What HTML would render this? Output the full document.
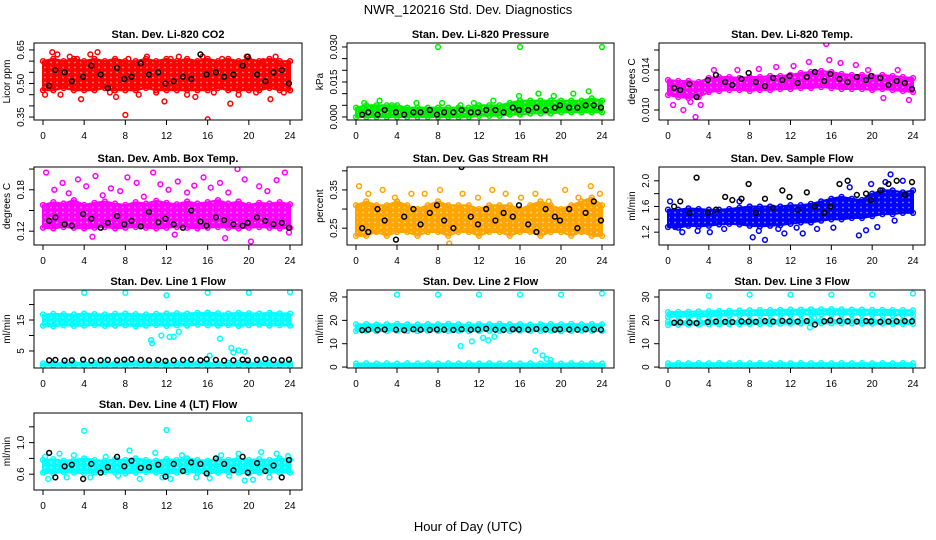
<!DOCTYPE html>
<html><head><meta charset="utf-8"><style>
html,body{margin:0;padding:0;background:#fff;}
svg{display:block;font-family:"Liberation Sans",sans-serif;}
</style></head><body>
<svg id="chart" width="936" height="540" viewBox="0 0 936 540">
<rect width="936" height="540" fill="#fff"/>
<defs id="defs"></defs>
<text x="468" y="14" font-size="13" text-anchor="middle">NWR_120216 Std. Dev. Diagnostics</text>
<text x="468" y="531" font-size="13" text-anchor="middle">Hour of Day (UTC)</text>
</svg>
<script>
const bandHours=[0,1,2,3,4,5,6,7,8,9,10,11,12,13,14,15,16,17,18,19,20,21,22,23,24];
const blackHours=[0.6,1.2,2.1,2.8,3.9,4.7,5.6,6.3,7.2,7.9,8.6,9.5,10.3,11.2,11.9,12.7,13.6,14.4,15.3,15.9,16.8,17.6,18.5,19.4,19.9,20.8,21.6,22.4,23.2,23.9];
const xTicks=[0,4,8,12,16,20,24];

// CO2
const co2Lo=[0.47,0.47,0.48,0.47,0.47,0.47,0.48,0.47,0.47,0.47,0.48,0.47,0.47,0.47,0.47,0.47,0.47,0.48,0.47,0.47,0.47,0.47,0.48,0.47,0.47];
const co2Hi=[0.60,0.61,0.60,0.61,0.60,0.61,0.60,0.61,0.60,0.60,0.61,0.60,0.61,0.60,0.61,0.60,0.61,0.60,0.61,0.60,0.61,0.60,0.61,0.60,0.60];
const co2PtsX=[0.2,0.9,1.4,1.7,2.6,3.3,3.7,4.6,5.3,6.5,7.1,8.0,8.3,9.3,10.1,11.0,11.8,12.4,13.2,14.0,14.8,15.5,16.0,16.6,17.4,18.2,19.0,19.8,20.7,21.4,22.1,22.6,23.4,24.0];
const co2PtsY=[0.45,0.64,0.63,0.45,0.62,0.61,0.43,0.63,0.64,0.46,0.44,0.36,0.61,0.45,0.62,0.46,0.42,0.61,0.62,0.45,0.44,0.62,0.34,0.46,0.61,0.41,0.45,0.62,0.46,0.60,0.43,0.62,0.46,0.47];
const co2Black=[0.49,0.56,0.55,0.51,0.53,0.58,0.54,0.48,0.57,0.52,0.53,0.59,0.54,0.55,0.50,0.51,0.53,0.52,0.63,0.54,0.55,0.53,0.54,0.58,0.62,0.54,0.51,0.55,0.56,0.50];
// Pressure
const presLo=[0,0,0,0,0,0,0,0,0,0,0,0,0.0005,0.0005,0.0005,0.001,0.001,0.0015,0.0015,0.0015,0.002,0.002,0.002,0.002,0.002];
const presHi=[0.004,0.005,0.005,0.005,0.005,0.004,0.004,0.004,0.004,0.004,0.004,0.004,0.005,0.005,0.005,0.006,0.007,0.007,0.007,0.007,0.007,0.007,0.007,0.008,0.007];
const presPtsX=[0.8,2.3,3.5,5.9,8.0,8.4,10.2,11.5,13.4,15.9,16.0,17.8,19.3,21.2,22.7,24.0];
const presPtsY=[0.006,0.007,0.005,0.006,0.030,0.006,0.005,0.006,0.007,0.009,0.030,0.010,0.009,0.010,0.011,0.030];
const presBlack=[0.001,0.002,0.001,0.003,0.002,0.001,0.002,0.002,0.003,0.001,0.002,0.002,0.003,0.002,0.002,0.003,0.003,0.002,0.004,0.003,0.003,0.004,0.003,0.004,0.005,0.004,0.004,0.005,0.005,0.004];
// Li-820 temp
const tempLo=[0.0115,0.0113,0.0112,0.0113,0.0118,0.0119,0.0120,0.0120,0.0119,0.0120,0.0120,0.0121,0.0121,0.0122,0.0122,0.0123,0.0122,0.0121,0.0121,0.0121,0.0120,0.0121,0.0120,0.0119,0.0118];
const tempHi=[0.0130,0.0129,0.0129,0.0128,0.0132,0.0133,0.0133,0.0132,0.0133,0.0133,0.0134,0.0134,0.0135,0.0137,0.0138,0.0139,0.0138,0.0136,0.0135,0.0135,0.0134,0.0135,0.0134,0.0133,0.0132];
const tempPtsX=[0.5,1.5,2.2,2.7,3.2,4.5,6.8,8.9,10.6,12.3,13.8,15.5,15.8,16.9,18.4,19.6,21.1,22.5,23.6];
const tempPtsY=[0.0105,0.0100,0.0108,0.0093,0.0105,0.0140,0.0140,0.0141,0.0143,0.0144,0.0148,0.0166,0.0150,0.0147,0.0145,0.0140,0.0112,0.0140,0.0110];
const tempBlack=[0.0122,0.0120,0.0126,0.0113,0.0130,0.0135,0.0128,0.0125,0.0131,0.0137,0.0128,0.0124,0.0132,0.0130,0.0134,0.0127,0.0133,0.0138,0.0129,0.0136,0.0131,0.0128,0.0133,0.0130,0.0134,0.0132,0.0125,0.0129,0.0127,0.0121];
// Amb box temp
const ambLo=[0.125,0.124,0.126,0.125,0.124,0.125,0.126,0.124,0.125,0.126,0.125,0.124,0.125,0.126,0.125,0.124,0.125,0.126,0.125,0.124,0.125,0.126,0.125,0.124,0.125];
const ambHi=[0.158,0.162,0.160,0.165,0.158,0.161,0.163,0.160,0.158,0.162,0.160,0.164,0.161,0.159,0.163,0.160,0.162,0.165,0.160,0.163,0.158,0.161,0.160,0.162,0.159];
const ambPtsX=[0.3,1.1,1.9,2.5,3.4,4.2,5.1,5.8,6.6,7.5,8.2,9.1,9.8,10.7,11.4,12.2,13.1,14.0,14.7,15.6,16.3,17.2,18.0,18.9,19.6,20.2,21.0,21.8,22.7,23.5,23.9,4.8,12.8,17.7];
const ambPtsY=[0.205,0.180,0.190,0.175,0.195,0.185,0.200,0.172,0.182,0.178,0.198,0.190,0.170,0.205,0.188,0.180,0.192,0.176,0.186,0.198,0.183,0.190,0.176,0.210,0.195,0.105,0.185,0.178,0.194,0.205,0.118,0.112,0.115,0.110];
const ambBlack=[0.135,0.140,0.130,0.128,0.145,0.138,0.125,0.132,0.142,0.130,0.135,0.127,0.148,0.133,0.138,0.130,0.125,0.150,0.134,0.128,0.140,0.136,0.130,0.128,0.132,0.140,0.135,0.130,0.132,0.125];
// Gas stream RH
const rhLo=[0.23,0.23,0.24,0.23,0.24,0.24,0.23,0.24,0.24,0.23,0.24,0.24,0.23,0.24,0.24,0.23,0.24,0.24,0.23,0.24,0.24,0.23,0.24,0.23,0.23];
const rhHi=[0.31,0.32,0.31,0.31,0.32,0.31,0.30,0.31,0.32,0.31,0.31,0.31,0.30,0.31,0.31,0.31,0.30,0.31,0.32,0.31,0.30,0.31,0.32,0.33,0.31];
const rhPtsX=[0.3,1.2,2.6,3.8,5.4,6.7,8.2,9.1,10.4,11.9,13.3,14.6,16.1,17.5,18.8,20.4,21.7,22.9,23.8];
const rhPtsY=[0.36,0.34,0.35,0.33,0.34,0.34,0.35,0.21,0.34,0.33,0.35,0.34,0.33,0.34,0.32,0.35,0.33,0.36,0.34];
const rhBlack=[0.25,0.24,0.30,0.27,0.22,0.28,0.30,0.26,0.29,0.31,0.27,0.25,0.41,0.28,0.26,0.30,0.27,0.29,0.28,0.31,0.26,0.24,0.30,0.28,0.27,0.30,0.25,0.29,0.32,0.27];
// Sample flow
const sfLo=[1.28,1.27,1.30,1.29,1.30,1.32,1.33,1.32,1.30,1.29,1.30,1.31,1.33,1.35,1.35,1.38,1.40,1.40,1.42,1.42,1.45,1.48,1.48,1.50,1.50];
const sfHi=[1.55,1.55,1.57,1.56,1.55,1.55,1.56,1.58,1.60,1.60,1.60,1.60,1.62,1.62,1.64,1.68,1.72,1.75,1.72,1.70,1.80,1.85,1.85,1.82,1.85];
const sfPtsX=[0.2,0.7,1.4,2.9,4.1,5.5,7.0,8.3,8.9,9.5,10.8,11.4,12.6,13.2,14.6,16.2,17.8,18.7,19.4,19.9,20.5,21.3,21.8,22.2,23.0];
const sfPtsY=[1.68,1.28,1.20,1.22,1.20,1.25,1.68,1.12,1.22,1.08,1.25,1.18,1.27,1.18,1.25,1.27,1.90,1.15,1.23,1.95,1.28,1.98,2.10,1.38,2.00];
const sfBlack=[1.60,1.68,1.50,2.05,1.50,1.55,1.75,1.70,1.72,1.95,1.50,1.72,1.58,1.85,1.75,1.55,1.82,1.60,1.50,1.60,1.95,2.00,1.78,1.80,1.70,1.85,1.95,2.00,1.78,1.98];
// Line 1
const l1Lo=[13.2,13.0,13.3,13.1,13.2,13.4,13.1,13.2,13.3,13.0,13.2,13.4,13.1,13.3,13.2,13.5,13.3,13.2,13.4,13.1,13.3,13.5,13.2,13.3,13.2];
const l1Hi=[16.8,17.0,16.9,16.8,17.1,16.9,16.8,17.0,17.1,16.9,16.8,17.0,17.1,17.2,17.1,17.3,17.4,17.2,17.1,17.3,17.2,17.1,17.3,17.2,17.1];
const l1LowLo=[0.2,0.3,0.2,0.3,0.2,0.3,0.2,0.3,0.2,0.3,0.2,0.3,0.2,0.3,0.2,0.3,0.2,0.3,0.2,0.3,0.2,0.3,0.2,0.3,0.2];
const l1LowHi=[1.0,1.1,1.0,1.2,1.0,1.1,1.2,1.0,1.1,1.0,1.2,1.1,1.0,1.1,1.2,1.0,1.1,1.0,1.2,1.1,1.0,1.1,1.2,1.0,1.1];
const l1PtsX=[4.0,8.0,12.0,16.0,20.0,24.0,10.5,10.6,11.5,12.3,12.7,13.2,17.2,18.3,18.5,19.0,19.6,16.2];
const l1PtsY=[23.8,23.8,23.0,23.8,23.8,24.0,8.5,7.5,10.0,9.5,9.6,11.2,9.0,6.0,4.5,5.2,4.8,3.5];
const l1Black=[2.0,2.1,1.9,2.0,2.2,1.9,2.0,2.1,2.0,2.2,2.3,2.1,2.0,2.1,1.8,2.0,2.1,2.2,2.0,2.3,2.1,1.9,2.0,2.2,2.0,2.1,2.4,2.1,2.0,2.2];
// Line 2
const l2Lo=[15.5,15.6,15.4,15.5,15.6,15.5,15.4,15.6,15.5,15.5,15.6,15.4,15.5,15.6,15.5,15.4,15.6,15.5,15.5,15.6,15.4,15.5,15.6,15.5,15.5];
const l2Hi=[18.3,18.4,18.2,18.3,18.5,18.3,18.2,18.4,18.3,18.5,18.3,18.2,18.4,18.3,18.5,18.3,18.4,18.2,18.3,18.4,18.3,18.5,18.3,18.4,18.3];
const l2LowLo=[0.3,0.4,0.3,0.4,0.3,0.4,0.3,0.4,0.3,0.4,0.3,0.4,0.3,0.4,0.3,0.4,0.3,0.4,0.3,0.4,0.3,0.4,0.3,0.4,0.3];
const l2LowHi=[1.5,1.6,1.5,1.6,1.5,1.6,1.5,1.6,1.5,1.6,1.5,1.6,1.5,1.6,1.5,1.6,1.5,1.6,1.5,1.6,1.5,1.6,1.5,1.6,1.5];
const l2PtsX=[4.0,8.0,12.0,16.0,20.0,24.0,10.2,11.3,12.4,12.9,13.5,17.5,18.2,18.6,19.0];
const l2PtsY=[31.0,31.0,31.0,31.0,31.0,31.5,9.0,11.0,12.5,11.5,13.0,7.0,5.0,3.5,3.0];
const l2Black=[15.8,16.0,15.9,16.1,16.0,15.8,16.2,16.0,15.9,16.1,16.0,15.9,16.2,16.0,16.1,16.4,16.0,15.9,16.2,16.1,16.0,16.3,16.1,16.0,16.2,16.1,16.0,16.2,16.1,16.0];
// Line 3
const l3Lo=[21.5,21.6,21.7,21.8,21.9,22.0,22.1,22.2,22.2,22.3,22.3,22.4,22.4,22.5,22.5,22.6,22.6,22.5,22.5,22.4,22.4,22.3,22.3,22.2,22.2];
const l3Hi=[23.5,23.6,23.7,23.8,23.9,24.0,24.1,24.2,24.3,24.4,24.4,24.5,24.6,24.6,24.7,24.7,24.8,24.7,24.6,24.6,24.5,24.5,24.4,24.4,24.3];
const l3MidLo=[18.0,18.1,18.2,18.2,18.3,18.3,18.4,18.4,18.5,18.5,18.5,18.6,18.6,18.6,18.7,18.7,18.7,18.7,18.7,18.6,18.6,18.6,18.5,18.5,18.5];
const l3MidHi=[19.4,19.5,19.6,19.6,19.7,19.7,19.8,19.8,19.9,19.9,19.9,20.0,20.0,20.0,20.1,20.1,20.1,20.1,20.1,20.0,20.0,20.0,19.9,19.9,19.9];
const l3LowLo=[0.4,0.5,0.4,0.5,0.4,0.5,0.4,0.5,0.4,0.5,0.4,0.5,0.4,0.5,0.4,0.5,0.4,0.5,0.4,0.5,0.4,0.5,0.4,0.5,0.4];
const l3LowHi=[1.6,1.7,1.6,1.7,1.6,1.7,1.6,1.7,1.6,1.7,1.6,1.7,1.6,1.7,1.6,1.7,1.6,1.7,1.6,1.7,1.6,1.7,1.6,1.7,1.6];
const l3PtsX=[4.0,8.0,12.0,16.0,20.0,24.0,13.9,14.3];
const l3PtsY=[30.5,31.0,31.0,31.0,31.0,31.5,17.0,21.0];
const l3Black=[19.0,19.2,19.1,18.8,19.3,19.5,19.4,19.3,19.6,19.5,19.4,19.7,19.5,19.8,19.6,19.5,19.7,18.2,19.6,20.0,19.8,19.6,19.5,19.7,19.6,19.4,19.5,19.6,19.7,19.6];
// Line 4
const l4Lo=[0.62,0.61,0.63,0.62,0.61,0.62,0.63,0.62,0.61,0.62,0.63,0.62,0.61,0.62,0.63,0.62,0.61,0.62,0.63,0.62,0.61,0.62,0.63,0.62,0.62];
const l4Hi=[0.78,0.79,0.77,0.78,0.80,0.78,0.77,0.79,0.78,0.80,0.78,0.77,0.79,0.78,0.80,0.78,0.77,0.79,0.78,0.80,0.78,0.79,0.78,0.80,0.78];
const l4PtsX=[0.2,0.5,1.6,2.3,3.0,4.0,4.6,6.1,7.3,8.4,9.4,10.9,11.6,12.0,12.4,13.5,14.9,16.2,17.3,18.1,19.0,19.6,20.0,20.4,21.2,22.0,22.7,23.8];
const l4PtsY=[0.82,0.54,0.86,0.56,0.84,1.15,0.56,0.82,0.58,0.90,0.54,0.87,0.56,1.16,0.54,0.84,0.56,0.55,0.84,0.58,0.86,0.52,1.30,0.53,0.88,0.56,0.86,0.83];
const l4Black=[0.87,0.56,0.70,0.72,0.54,0.73,0.62,0.69,0.82,0.70,0.77,0.68,0.69,0.72,0.57,0.73,0.64,0.75,0.73,0.61,0.80,0.73,0.65,0.82,0.62,0.74,0.64,0.71,0.56,0.78];

const NS='http://www.w3.org/2000/svg';
const svg=document.getElementById('chart');
const defs=document.getElementById('defs');
function mk(tag,attrs,parent){const e=document.createElementNS(NS,tag);for(const k in attrs)e.setAttribute(k,attrs[k]);(parent||svg).appendChild(e);return e;}

const panels=[
 {title:'Stan. Dev. Li-820 CO2',ylab:'Licor ppm',L:34,T:43,R:302,B:120,yMin:0.337,yMax:0.681,color:'#ff0000',
  bands:[[co2Lo,co2Hi]],px:co2PtsX,py:co2PtsY,black:co2Black,
  yt:[0.35,0.40,0.45,0.50,0.55,0.60,0.65],yl:['0.35','','','0.50','','','0.65'],key:'co2'},
 {title:'Stan. Dev. Li-820 Pressure',ylab:'kPa',L:347,T:43,R:614,B:120,yMin:-0.0013,yMax:0.0317,color:'#00ee00',
  bands:[[presLo,presHi]],px:presPtsX,py:presPtsY,black:presBlack,
  yt:[0,0.005,0.010,0.015,0.020,0.025,0.030],yl:['0.000','','','0.015','','','0.030'],key:'pressure'},
 {title:'Stan. Dev. Li-820 Temp.',ylab:'degrees C',L:659,T:43,R:925,B:120,yMin:0.009,yMax:0.0167,color:'#ff00ff',
  bands:[[tempLo,tempHi]],px:tempPtsX,py:tempPtsY,black:tempBlack,
  yt:[0.010,0.012,0.014,0.016],yl:['0.010','','0.014',''],key:'li820-temp'},
 {title:'Stan. Dev. Amb. Box Temp.',ylab:'degrees C',L:34,T:167,R:302,B:245,yMin:0.10,yMax:0.213,color:'#ff00ff',
  bands:[[ambLo,ambHi]],px:ambPtsX,py:ambPtsY,black:ambBlack,
  yt:[0.12,0.15,0.18,0.21],yl:['0.12','','0.18',''],key:'amb-box-temp'},
 {title:'Stan. Dev. Gas Stream RH',ylab:'percent',L:347,T:167,R:614,B:245,yMin:0.206,yMax:0.41,color:'#ffa500',
  bands:[[rhLo,rhHi]],px:rhPtsX,py:rhPtsY,black:rhBlack,
  yt:[0.25,0.30,0.35,0.40],yl:['0.25','','0.35',''],key:'gas-stream-rh'},
 {title:'Stan. Dev. Sample Flow',ylab:'ml/min',L:659,T:167,R:925,B:245,yMin:1.0,yMax:2.215,color:'#0000ff',
  bands:[[sfLo,sfHi]],px:sfPtsX,py:sfPtsY,black:sfBlack,
  yt:[1.2,1.4,1.6,1.8,2.0],yl:['1.2','','1.6','','2.0'],key:'sample-flow'},
 {title:'Stan. Dev. Line 1 Flow',ylab:'ml/min',L:34,T:290,R:302,B:368,yMin:-0.5,yMax:24.7,color:'#00ffff',
  bands:[[l1Lo,l1Hi],[l1LowLo,l1LowHi]],px:l1PtsX,py:l1PtsY,black:l1Black,
  yt:[5,10,15,20],yl:['5','','15',''],key:'line1-flow'},
 {title:'Stan. Dev. Line 2 Flow',ylab:'ml/min',L:347,T:290,R:614,B:368,yMin:-0.4,yMax:33,color:'#00ffff',
  bands:[[l2Lo,l2Hi],[l2LowLo,l2LowHi]],px:l2PtsX,py:l2PtsY,black:l2Black,
  yt:[0,10,20,30],yl:['0','10','20','30'],key:'line2-flow'},
 {title:'Stan. Dev. Line 3 Flow',ylab:'ml/min',L:659,T:290,R:925,B:368,yMin:-0.4,yMax:33,color:'#00ffff',
  bands:[[l3Lo,l3Hi],[l3MidLo,l3MidHi],[l3LowLo,l3LowHi]],px:l3PtsX,py:l3PtsY,black:l3Black,
  yt:[0,10,20,30],yl:['0','10','20','30'],key:'line3-flow'},
 {title:'Stan. Dev. Line 4 (LT) Flow',ylab:'ml/min',L:34,T:413,R:302,B:490,yMin:0.4,yMax:1.375,color:'#00ffff',
  bands:[[l4Lo,l4Hi]],px:l4PtsX,py:l4PtsY,black:l4Black,
  yt:[0.6,0.8,1.0,1.2],yl:['0.6','','1.0',''],key:'line4-flow'}
];

panels.forEach(p=>{
  // ring texture pattern for dense clouds
  const pat=mk('pattern',{id:'pat-'+p.key,width:6,height:5,patternUnits:'userSpaceOnUse'},defs);
  mk('rect',{width:6,height:5,fill:p.color},pat);
  mk('circle',{cx:3,cy:2.5,r:0.9,fill:'#fff','fill-opacity':0.55},pat);

  const g=mk('g',{});
  
  
  const xs=h=>p.L+9+h*(p.R-p.L-21)/24;
  const ys=v=>p.B-(v-p.yMin)/(p.yMax-p.yMin)*(p.B-p.T);
  const clip='clip-'+p.key;
  const cp=mk('clipPath',{id:clip},g);mk('rect',{x:p.L,y:p.T,width:p.R-p.L,height:p.B-p.T},cp);
  const plot=mk('g',{'clip-path':'url(#'+clip+')'},g);
  p.bands.forEach(b=>{
    const lo=b[0],hi=b[1];
    let pts=bandHours.map((h,i)=>xs(h)+','+ys(hi[i]));
    pts=pts.concat(bandHours.map((h,i)=>xs(h)+','+ys(lo[i])).reverse());
    const poly=mk('polygon',{points:pts.join(' '),fill:'url(#pat-'+p.key+')',stroke:p.color,'stroke-width':2,'stroke-linejoin':'round'},plot);
    
    
    bandHours.forEach((h,i)=>{
      [lo[i],hi[i]].forEach(v=>{
        const c=mk('circle',{cx:xs(h),cy:ys(v),r:2.4,fill:'none',stroke:p.color,'stroke-width':1.5},plot);
        
        
      });
    });
  });
  p.px.forEach((h,i)=>{
    const c=mk('circle',{cx:xs(h),cy:ys(p.py[i]),r:2.4,fill:'none',stroke:p.color,'stroke-width':1.5},plot);
    
    
  });
  blackHours.forEach((h,i)=>{
    const c=mk('circle',{cx:xs(h),cy:ys(p.black[i]),r:2.4,fill:'none',stroke:'#000','stroke-width':1.5},plot);
    
    
  });
  const box=mk('rect',{x:p.L,y:p.T,width:p.R-p.L,height:p.B-p.T,fill:'none',stroke:'#000','stroke-width':1},g);
  
  
  const t=mk('text',{x:(p.L+p.R)/2,y:p.T-5,'font-size':11,'font-weight':'bold','text-anchor':'middle'},g);
  t.textContent=p.title;
  
  
  xTicks.forEach(h=>{
    mk('line',{x1:xs(h),x2:xs(h),y1:p.B,y2:p.B+5,stroke:'#000'},g);
    const l=mk('text',{x:xs(h),y:p.B+19,'font-size':10,'text-anchor':'middle'},g);
    l.textContent=h;
    
    
  });
  p.yt.forEach((v,i)=>{
    mk('line',{x1:p.L-5,x2:p.L,y1:ys(v),y2:ys(v),stroke:'#000'},g);
    if(p.yl[i]){
      const l=mk('text',{x:p.L-10,y:ys(v),'font-size':10,'text-anchor':'middle',transform:'rotate(-90 '+(p.L-10)+' '+ys(v)+')'},g);
      l.textContent=p.yl[i];
      
      
    }
  });
  const yl=mk('text',{x:p.L-24,y:(p.T+p.B)/2,'font-size':10,'text-anchor':'middle',transform:'rotate(-90 '+(p.L-24)+' '+((p.T+p.B)/2)+')'},g);
  yl.textContent=p.ylab;
  
  
});
</script>
</body></html>
